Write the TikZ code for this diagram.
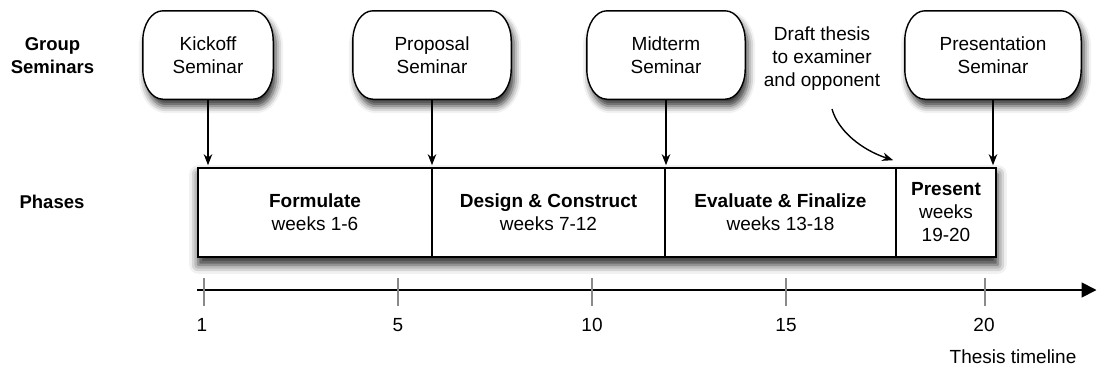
\documentclass[tikz,border=0pt]{standalone}
\usepackage{fontspec}
\setmainfont{Liberation Sans}
\usetikzlibrary{arrows.meta,shadows.blur,backgrounds}
\definecolor{tickgray}{HTML}{8A8A8A}
\newcommand{\semoutline}[1]{%
  \path[draw, line width=1.4pt, fill=white, semshadow]
    ([xshift=20pt]#1.north west) -- ([xshift=-20pt]#1.north east)
    arc[start angle=90, end angle=0, x radius=20pt, y radius=30pt]
    -- ([yshift=30pt]#1.south east)
    arc[start angle=0, end angle=-90, x radius=20pt, y radius=30pt]
    -- ([xshift=20pt]#1.south west)
    arc[start angle=270, end angle=180, x radius=20pt, y radius=30pt]
    -- ([yshift=-30pt]#1.north west)
    arc[start angle=180, end angle=90, x radius=20pt, y radius=30pt] -- cycle;}
\begin{document}
\begin{tikzpicture}[x=1pt,y=-1pt,
  txt/.style={font=\fontsize{19}{23}\selectfont, align=center, inner sep=0pt},
  lbl/.style={font=\fontsize{18.5}{23}\selectfont\bfseries, align=center, inner sep=0pt},
  sem/.style={txt, minimum height=88pt},
  phase/.style={txt, draw, line width=1.6pt, fill=white, minimum height=89pt},
  link/.style={line width=1.4pt, -{Stealth[length=11pt,width=8.5pt,inset=3.5pt]}},
  tickline/.style={draw=tickgray, line width=1.6pt},
  num/.style={font=\fontsize{19}{23}\selectfont, inner sep=0pt},
  semshadow/.style={blur shadow={shadow xshift=3pt, shadow yshift=-7pt, shadow blur radius=7pt, shadow opacity=80}},
  boxshadow/.style={blur shadow={shadow xshift=1pt, shadow yshift=-7pt, shadow blur radius=9pt, shadow opacity=85}},
]
\useasboundingbox (0,0) rectangle (1097,367);

% left labels
\node[lbl] (gs) at (52.5,56) {Group\\Seminars};
\node[lbl] (ph) at (52,202) {Phases};

% seminars
\node[sem, minimum width=130pt] (kick) at (208,55) {Kickoff\\Seminar};
\node[sem, minimum width=158pt] (prop) at (432,55) {Proposal\\Seminar};
\node[sem, minimum width=158pt] (mid) at (666,55) {Midterm\\Seminar};
\node[sem, minimum width=176pt] (pr) at (993,55) {Presentation\\Seminar};
\begin{scope}[on background layer]
  \semoutline{kick}
  \semoutline{prop}
  \semoutline{mid}
  \semoutline{pr}
\end{scope}

% phases
\node[phase, minimum width=234pt] (form) at (315,212.5) {\textbf{Formulate}\\weeks 1-6};
\node[phase, minimum width=233pt] (des) at (548.5,212.5) {\textbf{Design \& Construct}\\weeks 7-12};
\node[phase, minimum width=231pt] (eval) at (780.5,212.5) {\textbf{Evaluate \& Finalize}\\weeks 13-18};
\node[phase, minimum width=100pt] (pres) at (946,212.5) {\textbf{Present}\\weeks\\19-20};
\begin{scope}[on background layer]
  \path[fill=white, boxshadow] (form.north west) rectangle (pres.south east);
\end{scope}

% seminar arrows
\draw[link, shorten >=2pt] (kick.south) -- (kick.south |- form.north);
\draw[link, shorten >=2pt] (prop.south) -- (prop.south |- form.north);
\draw[link, shorten >=2pt] (mid.south) -- (mid.south |- des.north);
\draw[link, shorten >=2pt] (pr.south) -- (pr.south |- pres.north);

% draft thesis note
\node[txt] (draft) at (822,58.5) {Draft thesis\\to examiner\\and opponent};
\coordinate (dstart) at (832,109);
\draw[link] (dstart) .. controls (838,131) and (862,150) .. ([xshift=-2pt,yshift=7pt]pres.north west);

% timeline
\coordinate (tl0) at (197,290);
\coordinate (tl1) at (1096.5,290);
\draw[line width=1.8pt, -{Triangle[length=15pt,width=15pt]}] (tl0) -- (tl1);
\foreach \x/\lx/\l [count=\i] in {204/202/1, 398/398/5, 592/592/10, 786/786/15, 985/984/20} {
  \draw[tickline] (\x,278) -- (\x,306);
  \node[num] (n\i) at (\lx,325) {\l};
}
\node[num] (tt) at (1013,357) {Thesis timeline};
\end{tikzpicture}
\end{document}
